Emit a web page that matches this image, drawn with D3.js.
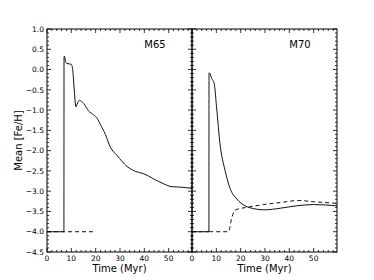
<!DOCTYPE html>
<html>
<head>
<meta charset="utf-8">
<script src="https://cdn.jsdelivr.net/npm/d3@7"></script>
<style>
  body { margin: 0; background: #fff; }
  svg { display: block; font-family: "DejaVu Sans", sans-serif; }
</style>
</head>
<body>
<div class="d3"></div>
<script>
// panel names
var panelNames = ['M65', 'M70'];

// M65 solid line
var m65Time  = [0, 6.95, 7.0, 7.2, 7.6, 8.2, 9.9, 10.5, 11.2, 11.9, 12.4, 13.3, 15.1, 17.1, 19.2, 20.6, 21.9, 24, 26, 28.8, 32.9, 36.3, 39.8, 43.9, 48, 51.4, 54.9, 59.6];
var m65Solid = [-4, -4, 0.3, 0.33, 0.2, 0.15, 0.13, 0.03, -0.5, -0.92, -0.85, -0.76, -0.84, -1.02, -1.12, -1.2, -1.35, -1.6, -1.91, -2.12, -2.39, -2.51, -2.57, -2.7, -2.82, -2.89, -2.9, -2.93];
// M65 dashed line
var m65DashTime = [0, 19];
var m65Dash     = [-4, -4];

// M70 solid line
var m70Time  = [0, 6.95, 7.0, 7.1, 8.1, 9.1, 10.2, 11.5, 13.6, 15.7, 18.4, 21.8, 23.9, 30, 36.3, 43.1, 50, 59.6];
var m70Solid = [-4, -4, -0.1, -0.08, -0.22, -0.34, -1.0, -1.83, -2.49, -2.94, -3.19, -3.36, -3.41, -3.46, -3.42, -3.36, -3.33, -3.36];
// M70 dashed line
var m70DashTime = [0, 7, 7.2, 7.5, 15, 16.3, 17.3, 18.4, 22.5, 29.4, 36.3, 43.8, 50, 59.6];
var m70Dash     = [-4, -4, -3.94, -4, -4, -3.67, -3.5, -3.45, -3.4, -3.33, -3.28, -3.23, -3.26, -3.3];

var xTicks = [0, 10, 20, 30, 40, 50];
var yTicks = [1.0, 0.5, 0.0, -0.5, -1.0, -1.5, -2.0, -2.5, -3.0, -3.5, -4.0, -4.5];

var W = 374, H = 280;
var plotTop = 29, plotBottom = 252, plotLeft = 47, panelW = 145;

var svg = d3.select('.d3').append('svg')
  .attr('width', W)
  .attr('height', H);

var y = d3.scaleLinear().domain([-4.5, 1.0]).range([plotBottom, plotTop]);

function zip(xs, ys) {
  return xs.map(function(d, i){ return [d, ys[i]]; });
}

var panels = [
  {name: panelNames[0], solid: zip(m65Time, m65Solid), dash: zip(m65DashTime, m65Dash)},
  {name: panelNames[1], solid: zip(m70Time, m70Solid), dash: zip(m70DashTime, m70Dash)}
];

var minorX = d3.range(0, 60, 2);
var minorY = d3.range(-45, 11, 1).map(function(d){ return d / 10; });

panels.forEach(function(p, i){
  var x0 = plotLeft + i * panelW;
  var x = d3.scaleLinear().domain([0, 59.6]).range([x0, x0 + panelW]);
  var g = svg.append('g');

  var line = d3.line()
    .x(function(d){ return x(d[0]); })
    .y(function(d){ return y(d[1]); })
    .curve(d3.curveMonotoneX);

  g.append('path')
    .attr('d', line(p.dash))
    .attr('fill', 'none')
    .attr('stroke', '#111')
    .attr('stroke-width', 1)
    .attr('stroke-dasharray', '4,3');

  g.append('path')
    .attr('d', line(p.solid))
    .attr('fill', 'none')
    .attr('stroke', '#111')
    .attr('stroke-width', 1);

  // ticks, all inward
  var tk = g.append('g').attr('stroke', '#000').attr('stroke-width', 0.8);
  minorX.forEach(function(t){
    var len = (t % 10 === 0) ? 4 : 2;
    tk.append('line').attr('x1', x(t)).attr('x2', x(t)).attr('y1', plotBottom).attr('y2', plotBottom - len);
    tk.append('line').attr('x1', x(t)).attr('x2', x(t)).attr('y1', plotTop).attr('y2', plotTop + len);
  });
  minorY.forEach(function(v){
    var len = (Math.abs(Math.round(v * 10)) % 5 === 0) ? 4 : 2;
    tk.append('line').attr('x1', x0).attr('x2', x0 + len).attr('y1', y(v)).attr('y2', y(v));
    tk.append('line').attr('x1', x0 + panelW).attr('x2', x0 + panelW - len).attr('y1', y(v)).attr('y2', y(v));
  });

  g.append('rect')
    .attr('x', x0).attr('y', plotTop)
    .attr('width', panelW).attr('height', plotBottom - plotTop)
    .attr('fill', 'none')
    .attr('stroke', '#000')
    .attr('stroke-width', 1);

  g.selectAll('.xt').data(xTicks).enter().append('text')
    .attr('x', function(d){ return x(d); })
    .attr('y', plotBottom + 9)
    .attr('text-anchor', 'middle')
    .attr('font-size', '7.5px')
    .text(function(d){ return d; });

  g.append('text')
    .attr('x', x0 + panelW / 2)
    .attr('y', 272)
    .attr('text-anchor', 'middle')
    .attr('font-size', '10px')
    .text('Time (Myr)');

  g.append('text')
    .attr('x', x0 + panelW - 37)
    .attr('y', 48)
    .attr('text-anchor', 'middle')
    .attr('font-size', '10px')
    .text(p.name);
});

svg.selectAll('.yt').data(yTicks).enter().append('text')
  .attr('x', plotLeft - 3)
  .attr('y', function(d){ return y(d) + 2.7; })
  .attr('text-anchor', 'end')
  .attr('font-size', '7.5px')
  .text(function(d){ return d3.format('.1f')(d).replace('-', '\u2212'); });

svg.append('text')
  .attr('transform', 'translate(22,' + ((plotTop + plotBottom) / 2) + ') rotate(-90)')
  .attr('text-anchor', 'middle')
  .attr('font-size', '10px')
  .text('Mean [Fe/H]');
</script>
</body>
</html>
